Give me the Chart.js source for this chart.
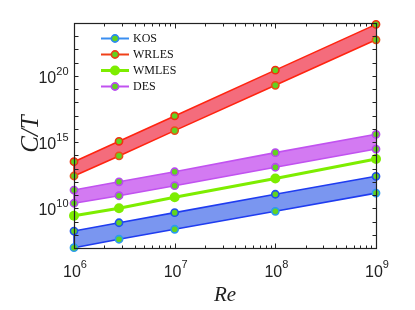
<!DOCTYPE html>
<html><head><meta charset="utf-8">
<script src="https://cdn.jsdelivr.net/npm/chart.js@4"></script>
<style>html,body{margin:0;padding:0;background:#fff}#wrap{width:415px;height:310px;position:relative}</style>
</head><body><div id="wrap"><canvas id="c"></canvas></div>
<script>
// ---- data ----
const re = [1e6, 2.8e6, 1e7, 1e8, 1e9];
const kosHigh   = [1.9e8, 8.1e8, 4.7e9, 1.15e11, 2.6e12];
const kosLow    = [1.05e7, 4.6e7, 2.6e8, 5.9e9, 1.4e11];
const wrlesHigh = [3.3e13, 1.15e15, 9.5e16, 2.75e20, 7.9e23];
const wrlesLow  = [2.75e12, 9.1e13, 7.4e15, 1.95e19, 5.4e22];
const wmles     = [2.75e9, 1.0e10, 6.8e10, 1.8e12, 5.25e13];
const desHigh   = [2.4e11, 1.0e12, 5.75e12, 1.6e14, 3.9e15];
const desLow    = [2.4e10, 8.9e10, 5.1e11, 1.26e13, 3.0e14];
const seriesNames = ['KOS', 'WRLES', 'WMLES', 'DES'];
const xTickExps = [6, 7, 8, 9];
const yTickExps = [10, 15, 20];
const yRange = [1e7, 1e24];
const xRange = [1e6, 1e9];

const pts = arr => re.map((x, i) => ({x, y: arr[i]}));
const GREEN = '#62d320';
function ds(label, arr, line, fill, fillTarget, pointEdge, opts) {
  return Object.assign({
    label, data: pts(arr), borderColor: line, borderWidth: 1.6,
    backgroundColor: fill, fill: fillTarget,
    pointRadius: 3.6, pointBorderWidth: 1.6, pointBorderColor: pointEdge,
    pointBackgroundColor: GREEN, tension: 0, clip: false
  }, opts || {});
}
const KOS_LINE = '#1f3cf0', KOS_FILL = 'rgb(122,150,240)';
const WR_LINE = '#ff2410', WR_FILL = 'rgb(244,108,124)';
const WM_LINE = '#7ded00';
const DES_LINE = '#c152f0', DES_FILL = 'rgb(211,122,242)';

const datasets = [
  ds('KOS', kosHigh, KOS_LINE, KOS_FILL, false, '#1f50f0'),
  ds('KOS low', kosLow, KOS_LINE, KOS_FILL, '-1', '#2a9af2'),
  ds('WRLES', wrlesHigh, WR_LINE, WR_FILL, false, '#f03010'),
  ds('WRLES low', wrlesLow, WR_LINE, WR_FILL, '-1', '#e85018'),
  ds('WMLES', wmles, WM_LINE, WM_LINE, false, WM_LINE, {borderWidth: 3, pointRadius: 5, pointBorderWidth: 0, pointBackgroundColor: WM_LINE}),
  ds('DES', desHigh, DES_LINE, DES_FILL, false, '#b848f0'),
  ds('DES low', desLow, DES_LINE, DES_FILL, '-1', '#b848f0')
];
const legendStyle = [
  {line: '#3a8ef0', edge: '#2a8af0', r: 3.6, face: GREEN},
  {line: '#f04018', edge: '#e84018', r: 3.6, face: GREEN},
  {line: WM_LINE, edge: WM_LINE, r: 5, face: WM_LINE},
  {line: DES_LINE, edge: '#b848f0', r: 3.6, face: GREEN}
];
const bandPairs = [[0, 1, KOS_LINE], [2, 3, WR_LINE], [5, 6, DES_LINE]];

const AX = '#222';
const deco = {
  id: 'deco',
  beforeDatasetsDraw(chart) {
    const ctx = chart.ctx;
    ctx.save();
    bandPairs.forEach(([a, b, col]) => {
      const ma = chart.getDatasetMeta(a).data, mb = chart.getDatasetMeta(b).data;
      ctx.strokeStyle = col; ctx.lineWidth = 1.6;
      [0, ma.length - 1].forEach(i => {
        ctx.beginPath(); ctx.moveTo(ma[i].x, ma[i].y); ctx.lineTo(mb[i].x, mb[i].y); ctx.stroke();
      });
    });
    ctx.restore();
  },
  afterDraw(chart) {
    const ctx = chart.ctx, ca = chart.chartArea;
    const xs = chart.scales.x, ys = chart.scales.y;
    ctx.save();
    ctx.strokeStyle = AX; ctx.lineWidth = 1.2;
    const L = Math.round(ca.left) + 0.5, R = Math.round(ca.right) + 0.5;
    const T = Math.round(ca.top) + 0.5, B = Math.round(ca.bottom) + 0.5;
    ctx.strokeRect(L, T, R - L, B - T);
    ctx.lineWidth = 1;
    ctx.beginPath();
    for (let e = 6; e <= 9; e++) {
      for (let m = 1; m <= 9; m++) {
        const v = m * Math.pow(10, e);
        if (v > xRange[1]) break;
        const px = Math.round(xs.getPixelForValue(v)) + 0.5;
        const len = m === 1 ? 5 : 3;
        ctx.moveTo(px, B); ctx.lineTo(px, B - len);
        ctx.moveTo(px, T); ctx.lineTo(px, T + len);
      }
    }
    for (let e = 7; e <= 24; e++) {
      const py = Math.round(ys.getPixelForValue(Math.pow(10, e))) + 0.5;
      ctx.moveTo(L, py); ctx.lineTo(L + 4, py);
      ctx.moveTo(R, py); ctx.lineTo(R - 4, py);
    }
    ctx.stroke();

    ctx.fillStyle = '#222';
    const base = "16px 'Liberation Sans', Arial, sans-serif";
    const sup = "11px 'Liberation Sans', Arial, sans-serif";
    ctx.textBaseline = 'alphabetic';
    xTickExps.forEach(e => {
      const px = xs.getPixelForValue(Math.pow(10, e));
      ctx.font = base; const w1 = ctx.measureText('10').width;
      ctx.font = sup; const w2 = ctx.measureText(String(e)).width;
      const x0 = px - (w1 + w2) / 2 + 1;
      ctx.font = base; ctx.textAlign = 'left'; ctx.fillText('10', x0, 277);
      ctx.font = sup; ctx.fillText(String(e), x0 + w1, 268);
    });
    yTickExps.forEach(e => {
      const py = ys.getPixelForValue(Math.pow(10, e));
      ctx.font = sup; const w2 = ctx.measureText(String(e)).width;
      ctx.font = base; const w1 = ctx.measureText('10').width;
      const xr = L - 6;
      ctx.textAlign = 'left';
      ctx.fillText('10', xr - w2 - w1, py + 7);
      ctx.font = sup; ctx.fillText(String(e), xr - w2, py - 1);
    });

    ctx.textAlign = 'center'; ctx.textBaseline = 'middle';
    ctx.font = "italic 21px 'Liberation Serif', 'Times New Roman', serif";
    ctx.fillText('Re', (ca.left + ca.right) / 2, 295);
    ctx.save();
    ctx.font = "italic 25px 'Liberation Serif', 'Times New Roman', serif";
    ctx.translate(31, 134);
    ctx.rotate(-Math.PI / 2);
    ctx.fillText('C/T', 0, 0);
    ctx.restore();

    const ly = [38.5, 54.5, 70.5, 86.5];
    ctx.font = "12px 'Liberation Serif', 'Times New Roman', serif";
    ctx.textAlign = 'left'; ctx.textBaseline = 'middle';
    seriesNames.forEach((name, i) => {
      const s = legendStyle[i];
      ctx.strokeStyle = s.line; ctx.lineWidth = i === 2 ? 3 : 2;
      ctx.beginPath(); ctx.moveTo(101, ly[i]); ctx.lineTo(129, ly[i]); ctx.stroke();
      ctx.beginPath(); ctx.arc(115, ly[i], s.r, 0, Math.PI * 2);
      ctx.fillStyle = s.face; ctx.fill();
      if (i !== 2) { ctx.strokeStyle = s.edge; ctx.lineWidth = 1.6; ctx.stroke(); }
      ctx.fillStyle = '#111';
      ctx.fillText(name, 133, ly[i] + 0.5);
    });
    ctx.restore();
  }
};

new Chart(document.getElementById('c'), {
  type: 'line',
  data: { datasets },
  options: {
    responsive: true, maintainAspectRatio: false, animation: false,
    layout: { padding: { left: 0, top: 23, right: 39, bottom: 0 } },
    plugins: { legend: { display: false }, tooltip: { enabled: false } },
    scales: {
      x: { type: 'logarithmic', min: xRange[0], max: xRange[1],
           grid: { display: false }, border: { display: false },
           ticks: { display: false },
           afterFit: s => { s.height = 62; } },
      y: { type: 'logarithmic', min: yRange[0], max: yRange[1],
           grid: { display: false }, border: { display: false },
           ticks: { display: false },
           afterFit: s => { s.width = 74; } }
    }
  },
  plugins: [deco]
});
</script>
</body></html>
